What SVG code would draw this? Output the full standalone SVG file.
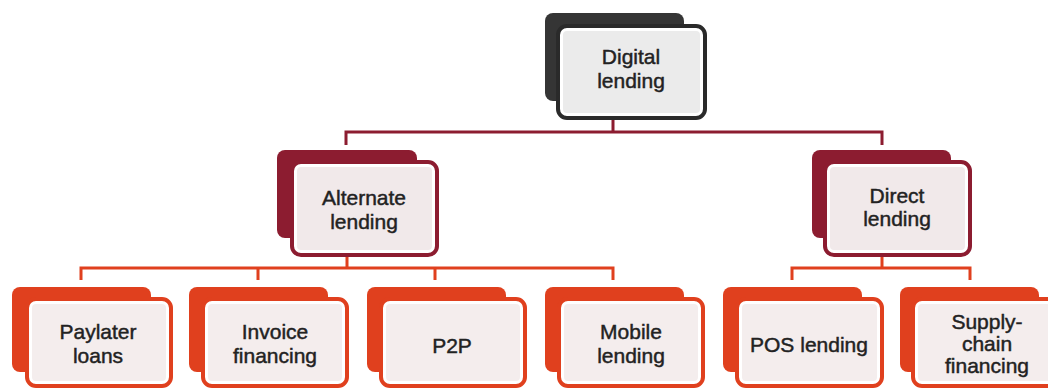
<svg xmlns="http://www.w3.org/2000/svg" width="1048" height="388" viewBox="0 0 1048 388">
  <style>
    .t { font-family: "Liberation Sans", Arial, sans-serif; font-size: 21px; fill: #222; text-anchor: middle; stroke: #222; stroke-width: 0.45px; }
    .front { stroke-width: 4; fill: #ffffff; }
    .c0 .back { fill: #353535; } .c0 .front { stroke: #2a2a2a; } .c0 .inner { fill: #ebebeb; }
    .c1 .back { fill: #8c1c30; } .c1 .front { stroke: #8c1c30; } .c1 .inner { fill: #f1e9ea; }
    .c2 .back { fill: #e0401e; } .c2 .front { stroke: #e0401e; } .c2 .inner { fill: #f4eded; }
    .lk1 { fill: none; stroke: #8c1c30; stroke-width: 3; }
    .lk2 { fill: none; stroke: #e0401e; stroke-width: 3; }
  </style>
  <rect width="1048" height="388" fill="#ffffff"/>

  <g id="connectors">
    <path class="lk1" d="M613 118 V132 M346 145 V132 H882 V145"/>
    <path class="lk2" d="M347 255 V268 M81 280 V268 H613 V280 M258 268 V280 M435 268 V280"/>
    <path class="lk2" d="M882 255 V268 M792 280 V268 H970 V280"/>
  </g>

  <g id="digital-lending" class="c0">
    <rect class="back" x="545" y="13" width="139" height="88" rx="8"/>
    <rect class="front" x="558" y="26" width="147" height="92" rx="9"/>
    <rect class="inner" x="563" y="31" width="137" height="82" rx="4"/>
    <text class="t" x="631" y="64">Digital</text>
    <text class="t" x="631" y="88">lending</text>
  </g>

  <g id="alternate-lending" class="c1">
    <rect class="back" x="277" y="150" width="140" height="88" rx="8"/>
    <rect class="front" x="292" y="162" width="145" height="93" rx="9"/>
    <rect class="inner" x="297" y="167" width="135" height="83" rx="4"/>
    <text class="t" x="364" y="205">Alternate</text>
    <text class="t" x="364" y="229">lending</text>
  </g>

  <g id="direct-lending" class="c1">
    <rect class="back" x="812" y="150" width="139" height="88" rx="8"/>
    <rect class="front" x="825" y="162" width="145" height="93" rx="9"/>
    <rect class="inner" x="830" y="167" width="135" height="83" rx="4"/>
    <text class="t" x="897" y="203">Direct</text>
    <text class="t" x="897" y="226">lending</text>
  </g>

  <g id="paylater-loans" class="c2">
    <rect class="back" x="12" y="287" width="139" height="85" rx="8"/>
    <rect class="front" x="27" y="299" width="144" height="87" rx="9"/>
    <rect class="inner" x="32" y="304" width="134" height="77" rx="4"/>
    <text class="t" x="98" y="339">Paylater</text>
    <text class="t" x="98" y="363">loans</text>
  </g>

  <g id="invoice-financing" class="c2">
    <rect class="back" x="189" y="287" width="139" height="85" rx="8"/>
    <rect class="front" x="203" y="299" width="144" height="87" rx="9"/>
    <rect class="inner" x="208" y="304" width="134" height="77" rx="4"/>
    <text class="t" x="275" y="339">Invoice</text>
    <text class="t" x="275" y="363">financing</text>
  </g>

  <g id="p2p" class="c2">
    <rect class="back" x="367" y="287" width="139" height="85" rx="8"/>
    <rect class="front" x="381" y="299" width="144" height="87" rx="9"/>
    <rect class="inner" x="386" y="304" width="134" height="77" rx="4"/>
    <text class="t" x="452" y="353">P2P</text>
  </g>

  <g id="mobile-lending" class="c2">
    <rect class="back" x="545" y="287" width="139" height="85" rx="8"/>
    <rect class="front" x="559" y="299" width="144" height="87" rx="9"/>
    <rect class="inner" x="564" y="304" width="134" height="77" rx="4"/>
    <text class="t" x="631" y="339">Mobile</text>
    <text class="t" x="631" y="363">lending</text>
  </g>

  <g id="pos-lending" class="c2">
    <rect class="back" x="723" y="287" width="139" height="85" rx="8"/>
    <rect class="front" x="737" y="299" width="145" height="87" rx="9"/>
    <rect class="inner" x="742" y="304" width="135" height="77" rx="4"/>
    <text class="t" x="809" y="352">POS lending</text>
  </g>

  <g id="supply-chain-financing" class="c2">
    <rect class="back" x="900" y="287" width="139" height="85" rx="8"/>
    <rect class="front" x="913" y="299" width="145" height="87" rx="9"/>
    <rect class="inner" x="918" y="304" width="135" height="77" rx="4"/>
    <text class="t" x="987" y="329">Supply-</text>
    <text class="t" x="987" y="351">chain</text>
    <text class="t" x="987" y="373">financing</text>
  </g>
</svg>
